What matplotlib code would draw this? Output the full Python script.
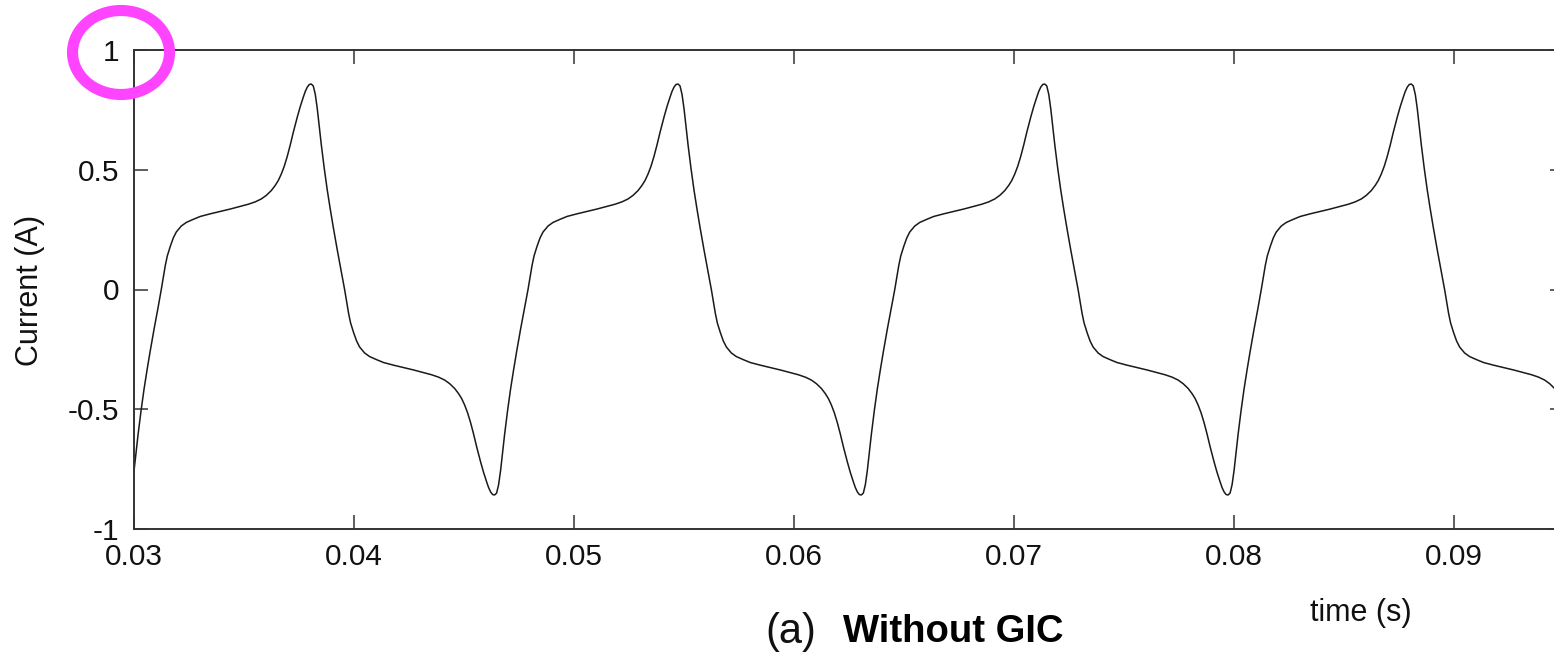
import numpy as np
import matplotlib
matplotlib.use("Agg")
import matplotlib.pyplot as plt
from matplotlib.patches import Ellipse

# One period of the steady-state current waveform (60 Hz), phase in ms
# measured from the rising zero crossing, current in A.
phase_ms = [
    0.000, 0.091, 0.182, 0.273, 0.409, 0.545, 0.682, 0.909, 1.136, 1.455,
    1.773, 2.227, 2.682, 3.136, 3.591, 3.955, 4.273, 4.545, 4.773, 5.000,
    5.182, 5.318, 5.455, 5.591, 5.727, 5.864, 6.000, 6.182, 6.318, 6.455,
    6.545, 6.636, 6.727, 6.818, 6.909, 7.000, 7.091, 7.182, 7.273, 7.409,
    7.545, 7.682, 7.818, 8.000, 8.182,
    8.333, 8.424, 8.515, 8.606, 8.742, 8.878, 9.015, 9.242, 9.469, 9.788,
    10.106, 10.560, 11.015, 11.469, 11.924, 12.288, 12.606, 12.878, 13.106, 13.333,
    13.515, 13.651, 13.788, 13.924, 14.060, 14.197, 14.333, 14.515, 14.651, 14.788,
    14.878, 14.969, 15.060, 15.151, 15.242, 15.333, 15.424, 15.515, 15.606, 15.742,
    15.878, 16.015, 16.151, 16.333, 16.515,
]
current_a = [
    0.000, 0.050, 0.100, 0.140, 0.180, 0.215, 0.240, 0.265, 0.280, 0.293,
    0.305, 0.316, 0.326, 0.336, 0.347, 0.356, 0.366, 0.378, 0.393, 0.413,
    0.435, 0.455, 0.482, 0.515, 0.556, 0.604, 0.656, 0.720, 0.764, 0.803,
    0.827, 0.845, 0.856, 0.858, 0.850, 0.815, 0.755, 0.680, 0.605, 0.505,
    0.415, 0.335, 0.260, 0.165, 0.075,
    0.000, -0.050, -0.100, -0.140, -0.180, -0.215, -0.240, -0.265, -0.280, -0.293,
    -0.305, -0.316, -0.326, -0.336, -0.347, -0.356, -0.366, -0.378, -0.393, -0.413,
    -0.435, -0.455, -0.482, -0.515, -0.556, -0.604, -0.656, -0.720, -0.764, -0.803,
    -0.827, -0.845, -0.856, -0.858, -0.850, -0.815, -0.755, -0.680, -0.605, -0.505,
    -0.415, -0.335, -0.260, -0.165, -0.075,
]
# Times (s) of the rising zero crossings of each cycle
cycle_starts = [0.01458, 0.03124, 0.04791, 0.06458, 0.08124, 0.09791]

xticks = [0.03, 0.04, 0.05, 0.06, 0.07, 0.08, 0.09]
xtick_labels = ["0.03", "0.04", "0.05", "0.06", "0.07", "0.08", "0.09"]
yticks = [-1, -0.5, 0, 0.5, 1]
ytick_labels = ["-1", "-0.5", "0", "0.5", "1"]

phase_s = np.array(phase_ms) / 1000.0
t = np.concatenate([s + phase_s for s in cycle_starts])
i = np.concatenate([np.array(current_a) for _ in cycle_starts])

plt.rcParams["font.family"] = ["Liberation Sans", "DejaVu Sans"]

W, H = 1554, 653
fig = plt.figure(figsize=(W / 100, H / 100), dpi=100)
ax = fig.add_axes([134 / W, (H - 529) / H, 1430 / W, 479 / H])

ax.plot(t, i, color="#1a1a1a", lw=1.1, solid_joinstyle="round")
ax.set_xlim(0.03, 0.095)
ax.set_ylim(-1, 1)

ax.set_xticks(xticks)
ax.set_xticklabels(xtick_labels)
ax.set_yticks(yticks)
ax.set_yticklabels(ytick_labels)
ax.tick_params(axis="both", direction="in", length=10, width=1.1,
               color="#333333", labelsize=21.5, labelcolor="#111111",
               top=True, right=True)
ax.tick_params(axis="x", pad=10)
ax.tick_params(axis="y", pad=10.5)
for sp in ax.spines.values():
    sp.set_linewidth(1.4)
    sp.set_color("#333333")

fig.text(30 / W, 1 - 290 / H, "Current (A)", rotation=90, ha="center",
         va="center", fontsize=22, color="#111111")
fig.text(1361 / W, 1 - 613 / H, "time (s)", ha="center", va="center",
         fontsize=22, color="#111111")
fig.text(791 / W, 1 - 632 / H, "(a)", ha="center", va="center",
         fontsize=30, color="#111111")
fig.text(843 / W, 1 - 632 / H, "Without GIC", ha="left", va="center",
         fontsize=27.5, fontweight="bold", color="#000000")

# Highlight ring around the top y tick label
ring = Ellipse((121 / W, 1 - 52.5 / H), 97 / W, 84 / H,
               transform=fig.transFigure, fill=False,
               edgecolor="#ff44ff", lw=8, clip_on=False)
fig.add_artist(ring)

fig.savefig("out.png", dpi=100)
